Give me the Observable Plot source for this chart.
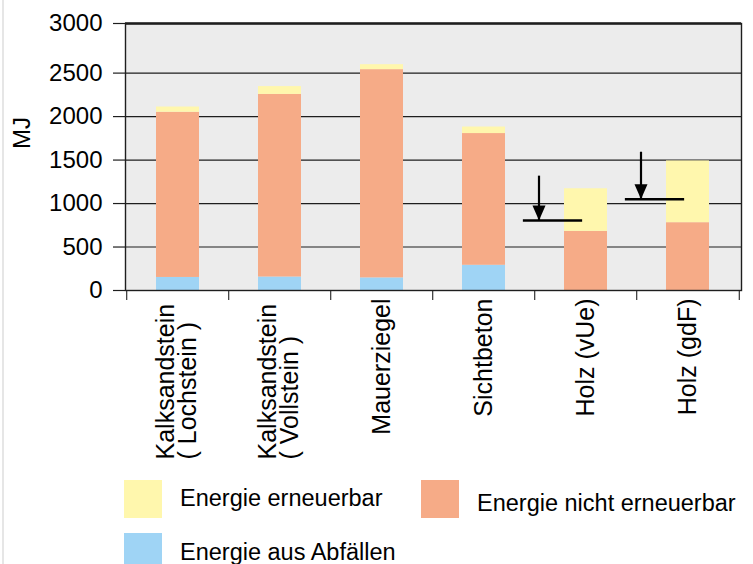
<!DOCTYPE html>
<html>
<head>
<meta charset="utf-8">
<script src="https://cdn.jsdelivr.net/npm/d3@7"></script>
<script src="https://cdn.jsdelivr.net/npm/@observablehq/plot@0.6"></script>
<style>
  html, body { margin: 0; padding: 0; background: #fff; }
  #wrap { position: relative; width: 753px; height: 564px; overflow: hidden; font-family: "Liberation Sans", Arial, Helvetica, sans-serif; color: #000; }
  #edge { position: absolute; left: 2px; top: 0; width: 2px; height: 564px; background: #e6e6e6; }
  #chart { position: absolute; left: 0; top: 0; }
  .sw { position: absolute; width: 38px; height: 38px; }
  .lt { position: absolute; font-size: 23.5px; line-height: 28px; white-space: nowrap; }
</style>
</head>
<body>
<div id="wrap">
  <div id="edge"></div>
  <div id="chart"></div>
  <div id="legend"></div>
</div>
<script>
// ---- data ----
const categories = ["Kalksandstein\n( Lochstein )", "Kalksandstein\n( Vollstein )", "Mauerziegel", "Sichtbeton", "Holz (vUe)", "Holz (gdF)"];
const seriesNames = ["Energie aus Abfällen", "Energie nicht erneuerbar", "Energie erneuerbar"];
const abfall = [150, 155, 145, 290, 0, 0];
const nichtErneuerbar = [1900, 2100, 2390, 1515, 680, 780];
const erneuerbar = [60, 90, 50, 75, 490, 710];
const yTicks = [0, 500, 1000, 1500, 2000, 2500, 3000];
const arrowCats = ["Holz (vUe)", "Holz (gdF)"];
const arrowTop = [1315, 1590];
const arrowLevel = [805, 1050];
const colors = ["#9fd4f5", "#f6ab87", "#fff7ad"];

// ---- build table ----
const seriesValues = [abfall, nichtErneuerbar, erneuerbar];
const table = [];
categories.forEach((c, i) => {
  seriesNames.forEach((s, k) => table.push({cat: c, series: s, value: seriesValues[k][i]}));
});
const arrows = arrowCats.map((c, i) => ({cat: c, top: arrowTop[i], level: arrowLevel[i]}));

// ---- layout ----
const W = 753, H = 470;
const mL = 125, mR = 12, mT = 23, mB = 180;
const bottom = H - mB;
const step = (W - mL - mR) / categories.length;
const pad = 0.574;
const bw = step * (1 - pad);
// the reference axis: 0..2500 evenly spaced, the last 500 slightly taller
const r2500 = bottom - (bottom - mT) * 0.8142;

const arrowHead = {
  draw(ctx) {
    ctx.moveTo(0, 0);
    ctx.lineTo(-6.5, -15);
    ctx.lineTo(6.5, -15);
    ctx.closePath();
  }
};

const arrowDx = -47;
const lineLeft = -63, lineRight = -3;   // horizontal marker, relative to band centre

const singles = categories.filter(c => !c.includes("\n"));
const multis = categories.filter(c => c.includes("\n"));

const plot = Plot.plot({
  width: W, height: H,
  marginLeft: mL, marginRight: mR, marginTop: mT, marginBottom: mB,
  style: {fontFamily: '"Liberation Sans", Arial, Helvetica, sans-serif', fontSize: "24px", color: "#000", background: "transparent", overflow: "visible"},
  x: {domain: categories, paddingInner: pad, paddingOuter: pad / 2, align: 0.5, axis: null},
  y: {type: "linear", domain: [0, 2500, 3000], range: [bottom, r2500, mT], axis: null},
  color: {domain: seriesNames, range: colors},
  marks: [
    Plot.frame({fill: "#ececec", stroke: null}),
    Plot.gridY(yTicks, {stroke: "#1e1e1e", strokeOpacity: 1, strokeWidth: 1.2}),
    Plot.barY(table, {x: "cat", y: "value", fill: "series", order: seriesNames}),
    Plot.axisY(yTicks, {tickSize: 12, tickPadding: 11, stroke: "#1e1e1e", strokeWidth: 1.2, fontSize: 24, label: null, tickFormat: d => String(d)}),
    // boundary ticks of the category axis
    Plot.ruleX(categories, {x: d => d, dx: -step / 2, insetTop: bottom - mT, insetBottom: -10, stroke: "#444", strokeWidth: 1.3}),
    Plot.ruleX(categories.slice(-1), {x: d => d, dx: step / 2, insetTop: bottom - mT, insetBottom: -10, stroke: "#444", strokeWidth: 1.3}),
    // category labels
    Plot.text(singles, {x: d => d, text: d => d, frameAnchor: "bottom", dy: 8, rotate: -90, textAnchor: "end", lineAnchor: "middle", fontSize: 25, fill: "#000"}),
    Plot.text(multis, {x: d => d, text: d => d, frameAnchor: "bottom", dy: 169, rotate: -90, textAnchor: "start", lineAnchor: "middle", lineHeight: 0.9, fontSize: 25, fill: "#000"}),
    // y-axis title
    Plot.text(["MJ"], {frameAnchor: "left", dx: -103, dy: -24, rotate: -90, textAnchor: "middle", lineAnchor: "middle", fontSize: 24, fill: "#000"}),
    // arrows for wood
    Plot.tickY(arrows, {x: "cat", y: "level", insetLeft: lineLeft + bw / 2, insetRight: bw / 2 - lineRight, stroke: "#000", strokeWidth: 2.4}),
    Plot.ruleX(arrows, {x: "cat", y1: "top", y2: "level", dx: arrowDx, stroke: "#000", strokeWidth: 2.2}),
    Plot.dot(arrows, {x: "cat", y: "level", dx: arrowDx, symbol: arrowHead, fill: "#000", stroke: null}),
    // frame
    Plot.frame({stroke: "#1e1e1e", strokeWidth: 1.4, fill: null}),
    Plot.ruleY([3000], {stroke: "#1e1e1e", strokeWidth: 2.6})
  ]
});
document.getElementById("chart").appendChild(plot);

// ---- legend (below the svg) ----
const legendItems = [
  {name: "Energie erneuerbar", color: colors[2], sx: 124, sy: 480, tx: 180, ty: 484},
  {name: "Energie nicht erneuerbar", color: colors[1], sx: 421, sy: 480, tx: 477, ty: 489},
  {name: "Energie aus Abfällen", color: colors[0], sx: 124, sy: 533, tx: 180, ty: 538}
];
const legend = document.getElementById("legend");
legendItems.forEach(it => {
  const s = document.createElement("div");
  s.className = "sw";
  s.style.left = it.sx + "px"; s.style.top = it.sy + "px"; s.style.background = it.color;
  legend.appendChild(s);
  const t = document.createElement("div");
  t.className = "lt";
  t.style.left = it.tx + "px"; t.style.top = it.ty + "px";
  t.textContent = it.name;
  legend.appendChild(t);
});
</script>
</body>
</html>
